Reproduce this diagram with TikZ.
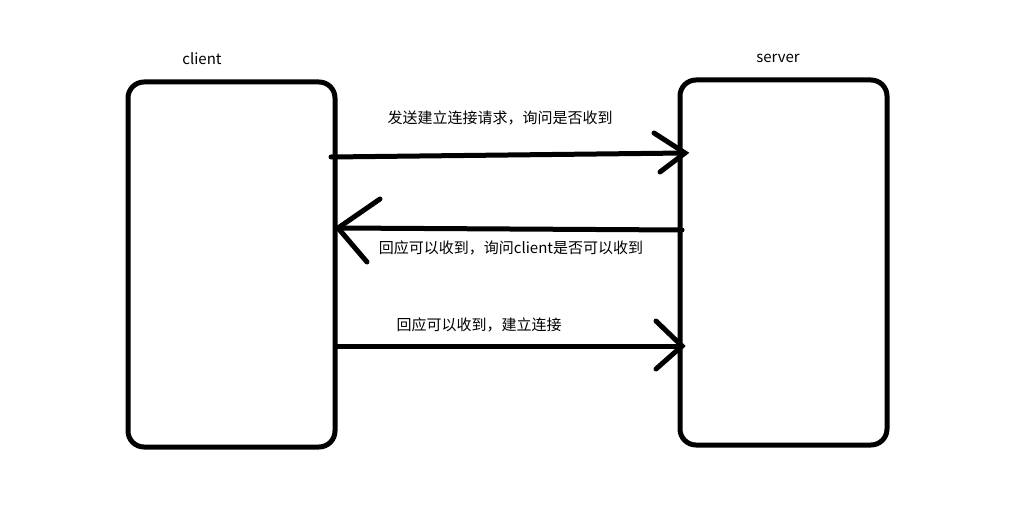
\documentclass[tikz,border=0pt]{standalone}
\usepackage{fontspec}
\setmainfont{Noto Sans CJK SC}
\begin{document}
\begin{tikzpicture}[x=1pt,y=-1pt,
  box/.style={draw=black,line width=5pt,rounded corners=16pt},
  conn/.style={draw=black,line width=5pt,line cap=round},
  lbl/.style={font=\fontsize{15}{18}\selectfont,inner sep=0pt,anchor=base}]
\useasboundingbox (0,0) rectangle (1018,519);
\fill[white] (0,0) rectangle (1018,519);
% boxes
\draw[box] (128,82) rectangle (335,447);
\draw[box] (680,80) rectangle (887,445);
\node[lbl] (client) at (202,65) {client};
\node[lbl] (server) at (778,63) {server};
% arrow 1
\coordinate (a1s) at (331,157);
\coordinate (a1e) at (685,153);
\coordinate (a1u) at (654,133);
\coordinate (a1d) at (660,172);
\draw[conn] (a1s) -- (a1e);
\draw[conn] (a1u) -- (a1e) -- (a1d);
\node[lbl] (t1) at (500,124) {发送建立连接请求，询问是否收到};
% arrow 2
\coordinate (a2s) at (682,230);
\coordinate (a2e) at (338,228);
\coordinate (a2u) at (380,199);
\coordinate (a2d) at (367,262);
\draw[conn] (a2s) -- (a2e);
\draw[conn] (a2u) -- (a2e) -- (a2d);
\node[lbl] (t2) at (511,253) {回应可以收到，询问client是否可以收到};
% arrow 3
\coordinate (a3s) at (337,346);
\coordinate (a3e) at (682,346);
\coordinate (a3u) at (656,321);
\coordinate (a3d) at (656,369);
\draw[conn] (a3s) -- (a3e);
\draw[conn] (a3u) -- (a3e) -- (a3d);
\node[lbl] (t3) at (479,330) {回应可以收到，建立连接};
\end{tikzpicture}
\end{document}
